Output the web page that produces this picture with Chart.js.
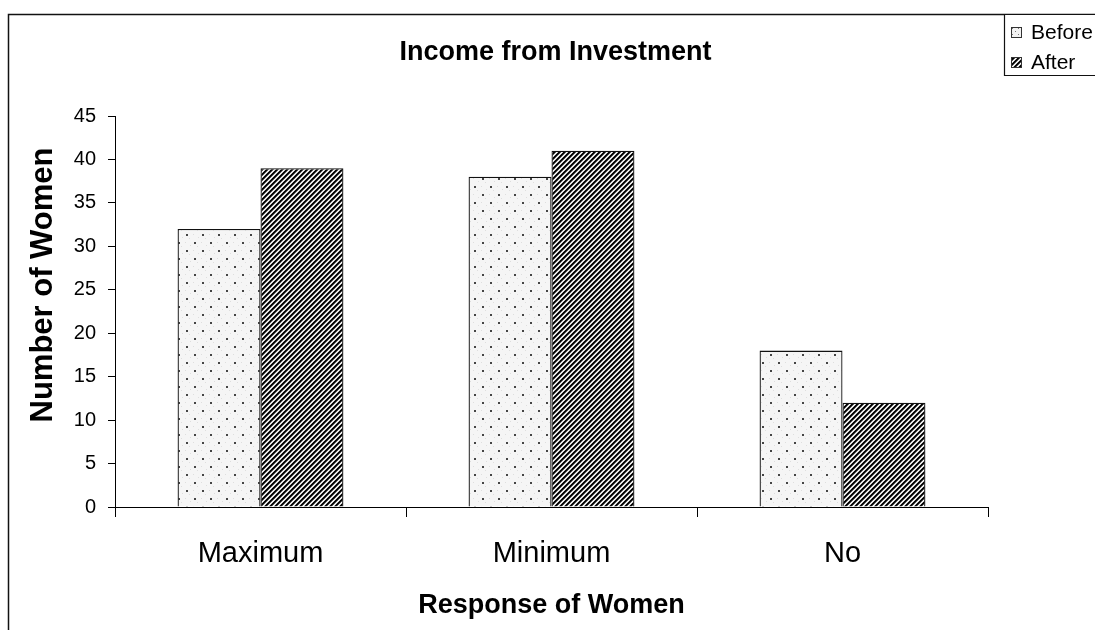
<!DOCTYPE html>
<html>
<head>
<meta charset="utf-8">
<script src="https://cdn.jsdelivr.net/npm/chart.js@4.4.1/dist/chart.umd.min.js"></script>
<style>
  html, body { margin: 0; padding: 0; background: #ffffff; }
  #wrap { position: relative; width: 1095px; height: 630px; }
</style>
</head>
<body>
<div id="wrap"><canvas id="chart"></canvas></div>
<script>
// Chart data
const categories = ['Maximum', 'Minimum', 'No'];
const beforeValues = [32, 38, 18];
const afterValues = [39, 41, 12];
const seriesNames = ['Before', 'After'];
const chartTitle = 'Income from Investment';
const xTitle = 'Response of Women';
const yTitle = 'Number of Women';

const FONT = "'Liberation Sans', Arial, Helvetica, sans-serif";

// Light dotted fill
function makeDotPattern() {
  const c = document.createElement('canvas');
  c.width = 16; c.height = 16;
  const g = c.getContext('2d');
  g.fillStyle = '#f5f5f5';
  g.fillRect(0, 0, 16, 16);
  g.fillStyle = '#dedede';
  [[9, 2], [1, 10], [5, 6], [13, 14], [6, 13], [14, 5]].forEach(([x, y]) => g.fillRect(x, y, 1, 1));
  g.fillStyle = '#444';
  g.fillRect(2, 2, 2, 2);
  g.fillRect(10, 10, 2, 2);
  return g.createPattern(c, 'repeat');
}

// Black/white diagonal stripes
function makeStripePattern() {
  const n = 5;
  const c = document.createElement('canvas');
  c.width = n; c.height = n;
  const g = c.getContext('2d');
  const img = g.createImageData(n, n);
  for (let y = 0; y < n; y++) {
    for (let x = 0; x < n; x++) {
      const v = (x + y) % n;
      let col = 255;
      if (v === 0 || v === 1) col = 5;
      else if (v === 2) col = 90;
      else if (v === 4) col = 200;
      const i = (y * n + x) * 4;
      img.data[i] = img.data[i + 1] = img.data[i + 2] = col;
      img.data[i + 3] = 255;
    }
  }
  g.putImageData(img, 0, 0);
  return g.createPattern(c, 'repeat');
}

// Small swatch version of the dotted fill for the legend
function makeSwatchDots() {
  const c = document.createElement('canvas');
  c.width = 6; c.height = 6;
  const g = c.getContext('2d');
  g.fillStyle = '#f2f2f2';
  g.fillRect(0, 0, 6, 6);
  g.fillStyle = '#777';
  g.fillRect(1, 1, 1, 1);
  g.fillRect(4, 4, 1, 1);
  return g.createPattern(c, 'repeat');
}

const dotFill = makeDotPattern();
const stripeFill = makeStripePattern();
const swatchDots = makeSwatchDots();

// Frame, titles and legend box
const decorations = {
  id: 'decorations',
  afterDraw(chart) {
    const ctx = chart.ctx;
    const area = chart.chartArea;
    ctx.save();
    // outer frame
    ctx.strokeStyle = '#111';
    ctx.lineWidth = 1.5;
    ctx.beginPath();
    ctx.moveTo(8.5, 640);
    ctx.lineTo(8.5, 14.5);
    ctx.lineTo(1100, 14.5);
    ctx.stroke();

    // chart title
    ctx.fillStyle = '#000';
    ctx.font = 'bold 27px ' + FONT;
    ctx.textAlign = 'center';
    ctx.textBaseline = 'alphabetic';
    ctx.fillText(chartTitle, (area.left + area.right) / 2 + 4, 60);

    // vertical axis title
    ctx.save();
    ctx.translate(43, 285);
    ctx.rotate(-Math.PI / 2);
    ctx.font = 'bold 31px ' + FONT;
    ctx.textAlign = 'center';
    ctx.textBaseline = 'middle';
    ctx.fillText(yTitle, 0, 0);
    ctx.restore();

    // legend box
    ctx.fillStyle = '#fff';
    ctx.fillRect(1004, 14, 100, 62);
    ctx.strokeStyle = '#111';
    ctx.lineWidth = 1.2;
    ctx.beginPath();
    ctx.moveTo(1100, 75.5);
    ctx.lineTo(1004.5, 75.5);
    ctx.lineTo(1004.5, 14.5);
    ctx.lineTo(1100, 14.5);
    ctx.stroke();

    const items = [
      { label: seriesNames[0], fill: swatchDots, y: 32 },
      { label: seriesNames[1], fill: stripeFill, y: 62 }
    ];
    ctx.font = '21px ' + FONT;
    ctx.textAlign = 'left';
    ctx.textBaseline = 'middle';
    items.forEach(it => {
      ctx.fillStyle = it.fill;
      ctx.fillRect(1011, it.y - 5, 11, 11);
      ctx.strokeStyle = '#333';
      ctx.lineWidth = 1;
      ctx.strokeRect(1011.5, it.y - 4.5, 10, 10);
      ctx.fillStyle = '#000';
      ctx.fillText(it.label, 1031, it.y + 1);
    });
    ctx.restore();
  }
};

new Chart(document.getElementById('chart'), {
  type: 'bar',
  data: {
    labels: categories,
    datasets: [
      {
        label: seriesNames[0],
        data: beforeValues,
        backgroundColor: dotFill,
        borderColor: '#111',
        borderWidth: 1.3,
        categoryPercentage: 0.57,
        barPercentage: 1.0
      },
      {
        label: seriesNames[1],
        data: afterValues,
        backgroundColor: stripeFill,
        borderColor: '#111',
        borderWidth: 1.3,
        categoryPercentage: 0.57,
        barPercentage: 1.0
      }
    ]
  },
  options: {
    responsive: true,
    maintainAspectRatio: false,
    animation: false,
    devicePixelRatio: 1,
    layout: { padding: { top: 116, right: 107, left: 0, bottom: 0 } },
    plugins: {
      legend: { display: false },
      title: { display: false },
      tooltip: { enabled: false }
    },
    scales: {
      x: {
        offset: true,
        grid: {
          offset: true,
          drawOnChartArea: false,
          drawTicks: true,
          tickLength: 10,
          color: '#000',
          lineWidth: 1
        },
        border: { color: '#000', width: 1 },
        ticks: {
          color: '#000',
          font: { family: FONT, size: 29 },
          padding: 20,
          maxRotation: 0
        },
        title: {
          display: true,
          text: xTitle,
          color: '#000',
          font: { family: FONT, size: 27, weight: 'bold' },
          padding: { top: 0, bottom: 8 }
        },
        afterFit(scale) { scale.height = 123; }
      },
      y: {
        min: 0,
        max: 45,
        grid: {
          drawOnChartArea: false,
          drawTicks: true,
          tickLength: 7,
          color: '#000',
          lineWidth: 1
        },
        border: { color: '#000', width: 1 },
        ticks: {
          stepSize: 5,
          color: '#000',
          font: { family: FONT, size: 20 },
          padding: 12
        },
        title: { display: false },
        afterFit(scale) { scale.width = 115; }
      }
    }
  },
  plugins: [decorations]
});
</script>
</body>
</html>
